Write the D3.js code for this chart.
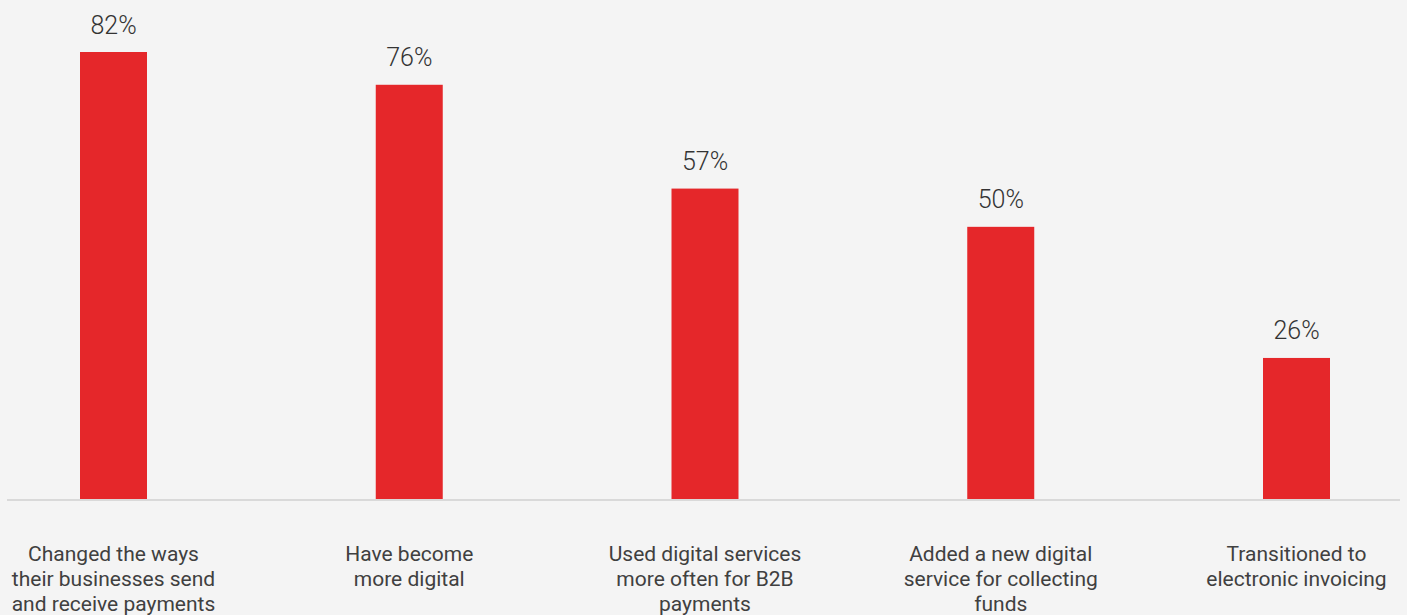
<!DOCTYPE html>
<html>
<head>
<meta charset="utf-8">
<script src="https://cdn.jsdelivr.net/npm/d3@7"></script>
<style>
  html, body { margin: 0; padding: 0; background: #f4f4f4; }
  svg { display: block; font-family: Roboto, "Noto Sans", sans-serif; }
</style>
</head>
<body>
<svg id="chart" width="1407" height="615"></svg>
<script>
// Share of respondents, by change reported
const categories = [
  ["Changed the ways", "their businesses send", "and receive payments"],
  ["Have become", "more digital"],
  ["Used digital services", "more often for B2B", "payments"],
  ["Added a new digital", "service for collecting", "funds"],
  ["Transitioned to", "electronic invoicing"]
];
const values = [82, 76, 57, 50, 26];
const valueLabels = ["82%", "76%", "57%", "50%", "26%"];

const width = 1407, height = 615;
const baseY = 500;
const barWidth = 67;

const svg = d3.select("#chart");
svg.append("rect").attr("width", width).attr("height", height).attr("fill", "#f4f4f4");

const keys = categories.map((c, i) => i);
const x = d3.scalePoint().domain(keys).range([113.5, 1296.5]);
const y = d3.scaleLinear().domain([0, 82]).range([baseY, 52]);

// bars
svg.append("g").selectAll("rect")
  .data(values)
  .join("rect")
  .attr("x", (d, i) => x(i) - barWidth / 2)
  .attr("y", d => y(d))
  .attr("width", barWidth)
  .attr("height", d => y(0) - y(d))
  .attr("fill", "#e5272a");

// baseline
svg.append("line")
  .attr("x1", 7).attr("x2", 1400)
  .attr("y1", y(0)).attr("y2", y(0))
  .attr("stroke", "#d9d9d9").attr("stroke-width", 2);

// value labels
svg.append("g").selectAll("text")
  .data(values)
  .join("text")
  .attr("x", (d, i) => x(i))
  .attr("y", d => y(d) - 18.5)
  .attr("text-anchor", "middle")
  .attr("font-size", 25)
  .attr("font-weight", 300)
  .attr("fill", "#333333")
  .text((d, i) => valueLabels[i]);

// category labels
const cat = svg.append("g").selectAll("text")
  .data(categories)
  .join("text")
  .attr("text-anchor", "middle")
  .attr("font-size", 21)
  .attr("fill", "#404040");
cat.each(function(lines, i) {
  d3.select(this).selectAll("tspan")
    .data(lines)
    .join("tspan")
    .attr("x", x(i))
    .attr("y", (l, j) => 561 + j * 25)
    .text(l => l);
});
</script>
</body>
</html>
